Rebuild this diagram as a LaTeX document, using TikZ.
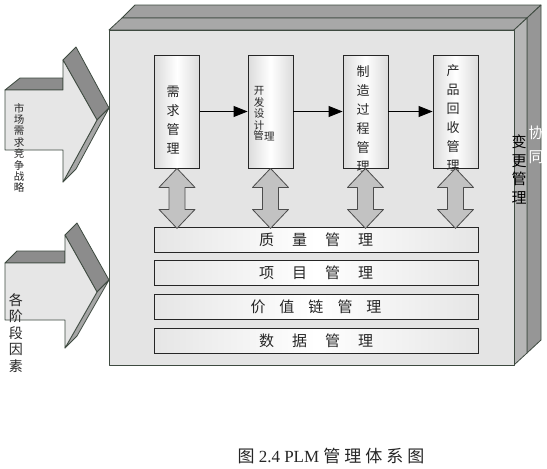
\documentclass[tikz,border=0pt]{standalone}
\usepackage{fontspec}
\setmainfont{Liberation Serif}
\newfontfamily\cjk{Noto Sans CJK SC}
\usetikzlibrary{arrows.meta,calc}
\definecolor{frontc}{HTML}{E4E4E4}
\definecolor{topc}{HTML}{A0A0A0}
\definecolor{topc2}{HTML}{A8A8A8}
\definecolor{sidec}{HTML}{B6B6B6}
\definecolor{sidec2}{HTML}{969696}
\definecolor{edgec}{HTML}{3E4A40}
\definecolor{arrowfill}{HTML}{C2C2C2}
\definecolor{leftfront}{HTML}{E6E6E6}
\definecolor{leftdark}{HTML}{8C8C8C}
\definecolor{leftmid}{HTML}{A6A6A6}
\begin{document}
\begin{tikzpicture}[x=1pt,y=-1pt,
 face/.style={draw=edgec, line width=0.8pt, line join=round},
 vbox/.style={draw=black!85, line width=0.8pt, left color=black!14, right color=black!14, middle color=white, minimum width=45pt, minimum height=113pt, inner sep=0pt},
 hbar/.style={draw=black!85, line width=0.8pt, left color=black!10, right color=black!10, middle color=white, minimum width=324pt, minimum height=25pt, inner sep=0pt},
 vtext/.style={font=\cjk\fontsize{13}{19}\selectfont, align=center, text=black!85, inner sep=0pt},
 ctext/.style={font=\cjk\fontsize{10.5}{12}\selectfont, text=black!85, inner sep=0pt},
 bartext/.style={font=\cjk\fontsize{15}{18}\selectfont, text=black!85},
 dblarrow/.style={draw=black!70, fill=arrowfill, line width=0.8pt, line join=round},
 flow/.style={-{Triangle[length=14pt,width=11pt]}, line width=0.8pt, black}
]
\useasboundingbox (0,0) rectangle (547,469);
\fill[white] (0,0) rectangle (547,469);

% main 3D box
\path[face, fill=topc] (122,18) -- (135,5) -- (541,5) -- (527,18) -- cycle;
\path[face, fill=sidec2] (527,18) -- (541,5) -- (541,340) -- (527,353) -- cycle;
\path[face, fill=topc2] (109,30) -- (122,18) -- (527,18) -- (514,30) -- cycle;
\path[face, fill=sidec] (514,30) -- (527,18) -- (527,353) -- (514,365) -- cycle;
\path[face, fill=frontc] (109,30) rectangle (514,365);

\node[font=\cjk\fontsize{15}{18.5}\selectfont, align=center, inner sep=0pt] (chg) at (519,169.5) {变\\更\\管\\理};
\node[font=\cjk\fontsize{15}{24}\selectfont, align=center, text=white, inner sep=0pt] (xt) at (536,145) {协\\同};

% left arrows
\path[face, fill=leftdark] (5,90) -- (20,78) -- (63,78) -- (63,90) -- cycle;
\path[face, fill=leftdark] (63,60) -- (76,47) -- (109,108) -- (97,120) -- cycle;
\path[face, fill=leftmid] (97,120) -- (109,108) -- (76,169) -- (63,182) -- cycle;
\path[face, fill=leftfront] (5,90) -- (63,90) -- (63,60) -- (97,120) -- (63,182) -- (63,150) -- (5,150) -- cycle;

\path[face, fill=leftdark] (5,263) -- (17,251) -- (65,251) -- (65,263) -- cycle;
\path[face, fill=leftdark] (65,235) -- (77,223) -- (109,280) -- (97,292) -- cycle;
\path[face, fill=leftmid] (97,292) -- (109,280) -- (77,336) -- (65,348) -- cycle;
\path[face, fill=leftfront] (5,263) -- (65,263) -- (65,235) -- (97,292) -- (65,348) -- (65,320) -- (5,320) -- cycle;

\node[font=\cjk\fontsize{10.5}{11.4}\selectfont, align=center, inner sep=0pt, text=black!85] (mk) at (19,148) {市\\场\\需\\求\\竞\\争\\战\\略};

\node[font=\cjk\fontsize{14}{16.5}\selectfont, align=center, inner sep=0pt, text=black!85] (st) at (16,333) {各\\阶\\段\\因\\素};

% process boxes
\node[vbox] (b1) at (177,111.5) {};
\node[vbox] (b2) at (270.5,111.5) {};
\node[vbox] (b3) at (365.5,111.5) {};
\node[vbox] (b4) at (455.5,111.5) {};

\node[vtext] (t1) at (173,120.5) {需\\求\\管\\理};
\node[vtext] (t3) at (363,119) {制\\造\\过\\程\\管\\理};
\node[vtext] (t4) at (453,117.5) {产\\品\\回\\收\\管\\理};
\node[font=\cjk\fontsize{10.5}{11.5}\selectfont, align=center, inner sep=0pt, text=black!85] (d1) at (259,108.5) {开\\发\\设\\计};
\node[ctext, anchor=north east] (d5) at (264,130) {管};
\node[ctext, anchor=north west] (d6) at (264,132) {理};

\draw[flow] (b1.east) -- (b2.west);
\draw[flow] (b2.east) -- (b3.west);
\draw[flow] (b3.east) -- (b4.west);

% bars
\node[hbar] (q) at (316,239.5) {};
\node[hbar] (p) at (316,272.5) {};
\node[hbar] (v) at (316,306.5) {};
\node[hbar] (d) at (316,340.5) {};
\node[bartext] at (q) {质\hspace{18pt}量\hspace{18pt}管\hspace{18pt}理};
\node[bartext] at (p) {项\hspace{18pt}目\hspace{18pt}管\hspace{18pt}理};
\node[bartext] at (v) {价\hspace{14pt}值\hspace{14pt}链\hspace{14pt}管\hspace{14pt}理};
\node[bartext] at (d) {数\hspace{18pt}据\hspace{18pt}管\hspace{18pt}理};

% double block arrows
\foreach \b in {b1,b2,b3,b4}{
  \draw[dblarrow] (\b.south) -- ++(18,19) -- ++(-10,0) -- ++(0,22) -- ++(10,0)
    -- ++(-18,19) -- ++(-18,-19) -- ++(10,0) -- ++(0,-22) -- ++(-10,0) -- cycle;
}

% caption
\node[font=\fontsize{17}{19}\selectfont, text=black!85] (cap) at (331,456) {{\cjk 图} 2.4 PLM {\cjk 管\hspace{4pt}理\hspace{4pt}体\hspace{4pt}系\hspace{4pt}图}};
\end{tikzpicture}
\end{document}
